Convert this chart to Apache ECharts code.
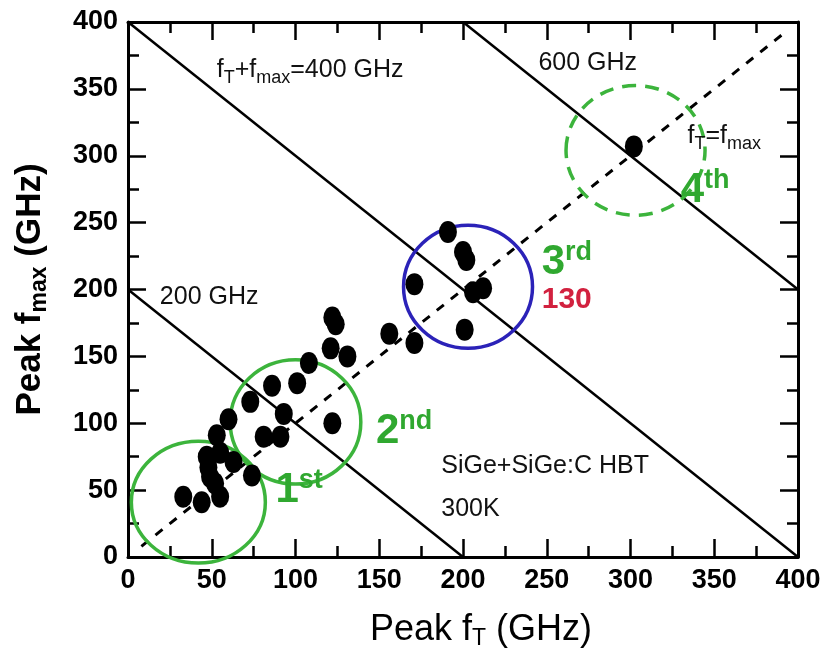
<!DOCTYPE html>
<html>
<head>
<meta charset="utf-8">
<script src="https://cdn.jsdelivr.net/npm/echarts@6/dist/echarts.min.js"></script>
<style>html,body{margin:0;padding:0;background:#fff}#c{width:825px;height:664px}</style>
</head>
<body>
<div id="c"></div>
<script>
// ---- data ----
const ftValues   = [302,191,200,202,171,206,212,201,156,171,122,124,121,131,108,86,101,73,93,122,81,91,60,53,47,55,63,48,49,74,33,44,55,52];
const fmaxValues = [307,243,228,222,204,198,201,170,167,160,179,174,156,150,145,128,130,116,107,100,90,90,103,91,75,78,71,67,60,61,45,41,45,55];
const axisTicks = [0,50,100,150,200,250,300,350,400];
// constant-sum lines fT+fmax = 200, 400, 600 and fT=fmax diagonal (endpoints)
const line200 = [[0,200],[200,0]];
const line400 = [[0,400],[400,0]];
const line600 = [[200,400],[400,200]];
const lineEq  = [[8,8],[392,392]];
// generation circles: centre fT, centre fmax, radius fT, radius fmax
const circleCx = [42,100,203,303];
const circleCy = [41,101,202,304];
const circleRx = [40,39,38.5,41.5];
const circleRy = [45.5,46.5,46,48.5];
const circleStyle = ['green','green','blue','greenDash'];
// annotation texts: label, fT, fmax
const noteText = [
  '{f|f}{s|T}{f|+f}{s|max}{f|=400 GHz}',
  '{f|600 GHz}',
  '{f|f}{s|T}{f|=f}{s|max}',
  '{f|200 GHz}',
  '{f|SiGe+SiGe:C HBT}',
  '{f|300K}',
  '{g|1}{gs|st}',
  '{g|2}{gs|nd}',
  '{g|3}{gs|rd}',
  '{r|130}',
  '{g|4}{gs|th}'
];
const noteX = [53,245,334,19,187,187,88,148,247,247,330];
const noteY = [364,369,315,194,68,36,50,94,220,192,274];

const chart = echarts.init(document.getElementById('c'));
const FONT = '"Liberation Sans",Arial,sans-serif';
const GREEN = '#3cb43c';
const GTEXT = '#30a830';
const rich = {
  f:{fontFamily:FONT,fontSize:25,fill:'#111',lineHeight:30},
  s:{fontFamily:FONT,fontSize:18,fill:'#111',lineHeight:30,padding:[16,0,0,0]},
  g:{fontFamily:FONT,fontSize:42,fontWeight:'bold',fill:GTEXT,lineHeight:44},
  gs:{fontFamily:FONT,fontSize:27,fontWeight:'bold',fill:GTEXT,lineHeight:44,padding:[0,0,20,0]},
  r:{fontFamily:FONT,fontSize:30,fontWeight:'bold',fill:'#d2213f',lineHeight:32}
};

function axisBase(extra){
  return Object.assign({
    type:'value', min:0, max:400, interval:50,
    axisLine:{show:true,onZero:false,lineStyle:{color:'#000',width:3}},
    axisTick:{show:true,inside:true,length:18,lineStyle:{color:'#000',width:2.5}},
    minorTick:{show:true,splitNumber:2,length:11,lineStyle:{color:'#000',width:2.5}},
    splitLine:{show:false},
    axisLabel:{show:true,fontFamily:FONT,fontWeight:'bold',fontSize:27,color:'#000',margin:10}
  }, extra);
}

const option = {
  backgroundColor:'#fff',
  animation:false,
  grid:{left:128,right:27,top:22,bottom:107},
  xAxis:[
    axisBase({position:'bottom',
      name:'{t|Peak f}{ts|T}{t| (GHz)}', nameLocation:'middle', nameGap:54,
      nameTextStyle:{padding:[0,0,0,36],rich:{t:{fontFamily:FONT,fontSize:36,color:'#000',lineHeight:38},ts:{fontFamily:FONT,fontSize:23,color:'#000',lineHeight:38,padding:[18,0,0,0]}}}
    }),
    axisBase({position:'top',axisLabel:{show:false}})
  ],
  yAxis:[
    axisBase({position:'left',
      name:'{t|Peak f}{ts|max}{t| (GHz)}', nameLocation:'middle', nameGap:79, nameRotate:90,
      nameTextStyle:{rich:{t:{fontFamily:FONT,fontSize:35,fontWeight:'bold',color:'#000',lineHeight:37},ts:{fontFamily:FONT,fontSize:23,fontWeight:'bold',color:'#000',lineHeight:37,padding:[18,0,0,0]}}}
    }),
    axisBase({position:'right',axisLabel:{show:false}})
  ],
  series:[
    {type:'line',data:line200,symbol:'none',lineStyle:{color:'#000',width:2.5},z:3},
    {type:'line',data:line400,symbol:'none',lineStyle:{color:'#000',width:2.5},z:3},
    {type:'line',data:line600,symbol:'none',lineStyle:{color:'#000',width:2.5},z:3},
    {type:'line',data:lineEq,symbol:'none',lineStyle:{color:'#000',width:3,type:[9,9]},z:3},
    {type:'custom',z:4,
      data:circleCx.map((v,i)=>[v,circleCy[i],circleRx[i],circleRy[i],i]),
      renderItem:function(params,api){
        const i = api.value(4);
        const c = api.coord([api.value(0),api.value(1)]);
        const sz = api.size([api.value(2),api.value(3)]);
        const st = circleStyle[i];
        const stroke = st==='blue' ? '#2b22b8' : GREEN;
        return {type:'ellipse',shape:{cx:c[0],cy:c[1],rx:sz[0],ry:sz[1]},
          style:{fill:null,stroke:stroke,lineWidth:3.5,lineDash: st==='greenDash'?[14,9]:null}};
      }
    },
    {type:'scatter',z:5,data:ftValues.map((v,i)=>[v,fmaxValues[i]]),
      symbol:'circle',symbolSize:[18,22],itemStyle:{color:'#000',opacity:1}},
    {type:'custom',z:6,
      data:noteX.map((v,i)=>[v,noteY[i],i]),
      renderItem:function(params,api){
        const i = api.value(2);
        const c = api.coord([api.value(0),api.value(1)]);
        return {type:'text',x:c[0],y:c[1],
          style:{text:noteText[i],rich:rich,align:'left',verticalAlign:'middle'}};
      }
    }
  ]
};
chart.setOption(option);
</script>
</body>
</html>
